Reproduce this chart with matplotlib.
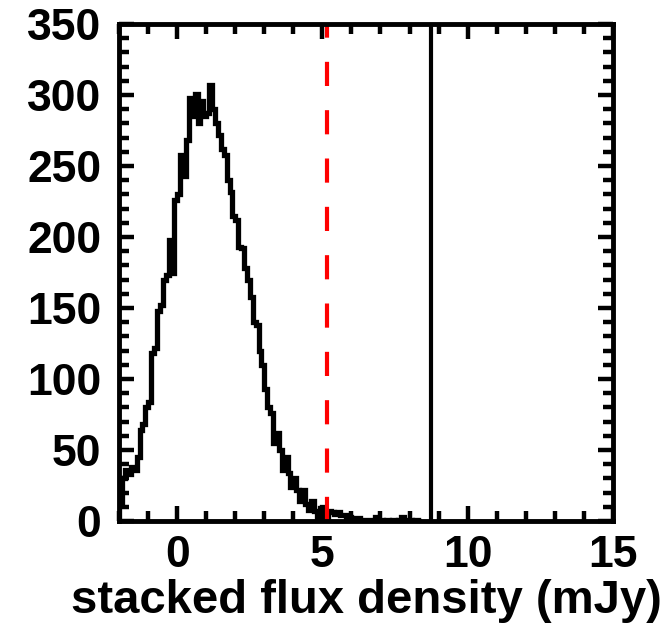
import numpy as np
import matplotlib.pyplot as plt
from matplotlib.ticker import MultipleLocator

# histogram of stacked flux density, bins of 0.1 mJy starting at -2
bin_start = -2.0
bin_width = 0.1
counts = [
    12, 30, 36, 33, 38, 36, 45, 64, 68, 80,
    84, 118, 122, 148, 152, 170, 173, 198, 175, 226,
    230, 258, 243, 268, 298, 285, 301, 280, 296, 285,
    287, 307, 290, 280, 272, 262, 258, 240, 232, 215,
    212, 193, 192, 178, 170, 158, 140, 138, 120, 110,
    93, 80, 76, 55, 62, 50, 36, 45, 34, 24,
    30, 22, 14, 22, 12, 8, 14, 7, 3, 9,
    10, 3, 7, 6, 5, 6, 4, 4, 3, 3,
    2, 2, 2, 1, 1, 1, 1, 1, 3, 1,
    1, 0, 1, 0, 1, 0, 1, 3, 0, 1,
    1, 0, 1, 0,
]
edges = bin_start + bin_width * np.arange(len(counts) + 1)

threshold = 5.15   # red dashed line
measured = 8.75    # black solid line

plt.rcParams['font.family'] = ['Liberation Sans', 'DejaVu Sans']
plt.rcParams['font.weight'] = 'bold'

fig = plt.figure(figsize=(6.66, 6.33), dpi=100)
ax = fig.add_axes([0.179, 0.177, 0.741, 0.785])

ax.stairs(counts, edges, color='black', linewidth=3.8)
ax.axvline(threshold, color='red', linewidth=3, linestyle=(0, (5.8, 5.8)))
ax.axvline(measured, color='black', linewidth=3)

ax.set_xlim(-2, 15)
ax.set_ylim(0, 350)
ax.xaxis.set_major_locator(MultipleLocator(5))
ax.xaxis.set_minor_locator(MultipleLocator(1))
ax.yaxis.set_major_locator(MultipleLocator(50))
ax.yaxis.set_minor_locator(MultipleLocator(10))

ax.tick_params(which='both', direction='in', top=True, right=True, width=3.2,
               labelsize=32)
ax.tick_params(which='major', length=11)
ax.tick_params(which='minor', length=7)
ax.tick_params(axis='x', pad=10)
ax.tick_params(axis='y', pad=13)
for s in ax.spines.values():
    s.set_linewidth(3.5)

ax.set_xlabel('stacked flux density (mJy)', fontsize=34, fontweight='bold', labelpad=2)

fig.savefig('out.png', dpi=100)
